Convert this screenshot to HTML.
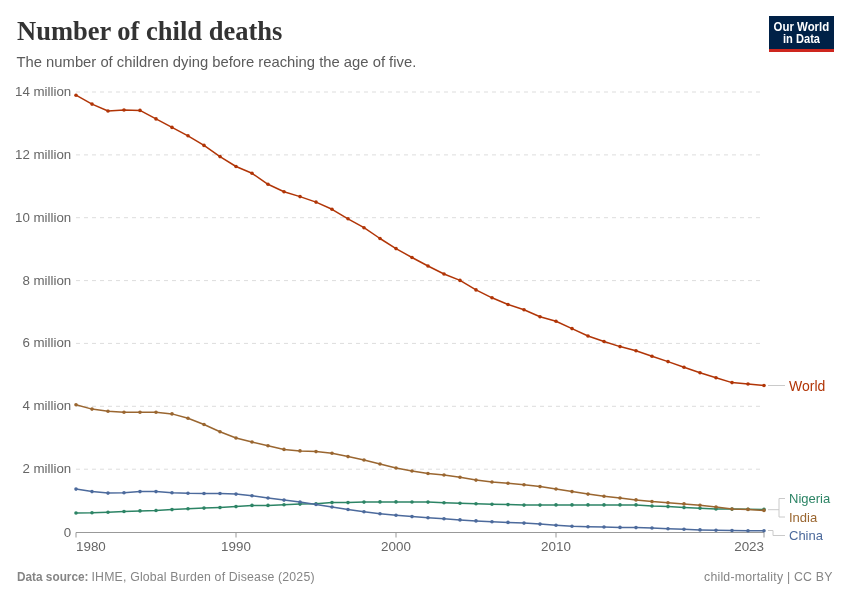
<!DOCTYPE html>
<html><head><meta charset="utf-8"><style>
html,body{margin:0;padding:0;background:#fff;width:850px;height:600px;overflow:hidden}
svg{display:block;will-change:transform}
</style></head><body>
<svg width="850" height="600" viewBox="0 0 850 600" font-family="Liberation Sans, sans-serif">
<rect width="850" height="600" fill="#fff"/>
<text x="17" y="40" font-family="Liberation Serif, serif" font-weight="bold" font-size="26.5" fill="#333">Number of child deaths</text>
<text x="16.5" y="66.5" font-size="14.8" fill="#5b5b5b">The number of children dying before reaching the age of five.</text>
<g>
<rect x="769" y="16" width="65" height="36" fill="#002147"/>
<rect x="769" y="49" width="65" height="3" fill="#ce261e"/>
<text x="773.6" y="30.7" font-size="12" font-weight="bold" fill="#fff" textLength="55.6" lengthAdjust="spacingAndGlyphs">Our World</text>
<text x="783" y="42.8" font-size="12" font-weight="bold" fill="#fff" textLength="37" lengthAdjust="spacingAndGlyphs">in Data</text>
</g>
<g font-size="13.3" fill="#666">
<line x1="76" y1="92.0" x2="764" y2="92.0" stroke="#dddddd" stroke-dasharray="4,4"/>
<text x="71.2" y="95.9" text-anchor="end">14 million</text>
<line x1="76" y1="154.9" x2="764" y2="154.9" stroke="#dddddd" stroke-dasharray="4,4"/>
<text x="71.2" y="158.8" text-anchor="end">12 million</text>
<line x1="76" y1="217.7" x2="764" y2="217.7" stroke="#dddddd" stroke-dasharray="4,4"/>
<text x="71.2" y="221.6" text-anchor="end">10 million</text>
<line x1="76" y1="280.6" x2="764" y2="280.6" stroke="#dddddd" stroke-dasharray="4,4"/>
<text x="71.2" y="284.5" text-anchor="end">8 million</text>
<line x1="76" y1="343.4" x2="764" y2="343.4" stroke="#dddddd" stroke-dasharray="4,4"/>
<text x="71.2" y="347.3" text-anchor="end">6 million</text>
<line x1="76" y1="406.3" x2="764" y2="406.3" stroke="#dddddd" stroke-dasharray="4,4"/>
<text x="71.2" y="410.2" text-anchor="end">4 million</text>
<line x1="76" y1="469.2" x2="764" y2="469.2" stroke="#dddddd" stroke-dasharray="4,4"/>
<text x="71.2" y="473.1" text-anchor="end">2 million</text>
<text x="71.2" y="536.8" text-anchor="end">0</text>

</g>
<g font-size="13.4" fill="#666">
<line x1="76" y1="532.5" x2="764" y2="532.5" stroke="#999" stroke-width="1"/>
<line x1="76" y1="532.5" x2="76" y2="537.5" stroke="#999"/>
<line x1="236" y1="532.5" x2="236" y2="537.5" stroke="#999"/>
<line x1="396" y1="532.5" x2="396" y2="537.5" stroke="#999"/>
<line x1="556" y1="532.5" x2="556" y2="537.5" stroke="#999"/>
<line x1="764" y1="532.5" x2="764" y2="537.5" stroke="#999"/>
<text x="76" y="550.5">1980</text><text x="236" y="550.5" text-anchor="middle">1990</text><text x="396" y="550.5" text-anchor="middle">2000</text><text x="556" y="550.5" text-anchor="middle">2010</text><text x="764" y="550.5" text-anchor="end">2023</text>

</g>
<g fill="#b13507"><polyline points="76.0,95.2 92.0,104.1 108.0,111.0 124.0,110.0 140.0,110.4 156.0,118.9 172.0,127.4 188.0,135.8 204.0,145.4 220.0,156.6 236.0,166.5 252.0,173.3 268.0,184.3 284.0,191.7 300.0,196.6 316.0,202.1 332.0,209.3 348.0,218.8 364.0,227.7 380.0,238.5 396.0,248.6 412.0,257.5 428.0,266.0 444.0,274.0 460.0,280.4 476.0,289.9 492.0,297.8 508.0,304.5 524.0,309.8 540.0,316.8 556.0,321.2 572.0,328.6 588.0,336.0 604.0,341.5 620.0,346.6 636.0,350.8 652.0,356.3 668.0,361.6 684.0,367.2 700.0,372.7 716.0,377.8 732.0,382.6 748.0,384.0 764.0,385.5" fill="none" stroke="#b13507" stroke-width="1.5" stroke-linejoin="round"/>
<circle cx="76.0" cy="95.2" r="1.8"/><circle cx="92.0" cy="104.1" r="1.8"/><circle cx="108.0" cy="111.0" r="1.8"/><circle cx="124.0" cy="110.0" r="1.8"/><circle cx="140.0" cy="110.4" r="1.8"/><circle cx="156.0" cy="118.9" r="1.8"/><circle cx="172.0" cy="127.4" r="1.8"/><circle cx="188.0" cy="135.8" r="1.8"/><circle cx="204.0" cy="145.4" r="1.8"/><circle cx="220.0" cy="156.6" r="1.8"/><circle cx="236.0" cy="166.5" r="1.8"/><circle cx="252.0" cy="173.3" r="1.8"/><circle cx="268.0" cy="184.3" r="1.8"/><circle cx="284.0" cy="191.7" r="1.8"/><circle cx="300.0" cy="196.6" r="1.8"/><circle cx="316.0" cy="202.1" r="1.8"/><circle cx="332.0" cy="209.3" r="1.8"/><circle cx="348.0" cy="218.8" r="1.8"/><circle cx="364.0" cy="227.7" r="1.8"/><circle cx="380.0" cy="238.5" r="1.8"/><circle cx="396.0" cy="248.6" r="1.8"/><circle cx="412.0" cy="257.5" r="1.8"/><circle cx="428.0" cy="266.0" r="1.8"/><circle cx="444.0" cy="274.0" r="1.8"/><circle cx="460.0" cy="280.4" r="1.8"/><circle cx="476.0" cy="289.9" r="1.8"/><circle cx="492.0" cy="297.8" r="1.8"/><circle cx="508.0" cy="304.5" r="1.8"/><circle cx="524.0" cy="309.8" r="1.8"/><circle cx="540.0" cy="316.8" r="1.8"/><circle cx="556.0" cy="321.2" r="1.8"/><circle cx="572.0" cy="328.6" r="1.8"/><circle cx="588.0" cy="336.0" r="1.8"/><circle cx="604.0" cy="341.5" r="1.8"/><circle cx="620.0" cy="346.6" r="1.8"/><circle cx="636.0" cy="350.8" r="1.8"/><circle cx="652.0" cy="356.3" r="1.8"/><circle cx="668.0" cy="361.6" r="1.8"/><circle cx="684.0" cy="367.2" r="1.8"/><circle cx="700.0" cy="372.7" r="1.8"/><circle cx="716.0" cy="377.8" r="1.8"/><circle cx="732.0" cy="382.6" r="1.8"/><circle cx="748.0" cy="384.0" r="1.8"/><circle cx="764.0" cy="385.5" r="1.8"/></g>

<g fill="#2c8465"><polyline points="76.0,513.0 92.0,512.8 108.0,512.2 124.0,511.5 140.0,510.9 156.0,510.5 172.0,509.6 188.0,508.8 204.0,508.1 220.0,507.5 236.0,506.6 252.0,505.4 268.0,505.4 284.0,504.7 300.0,504.1 316.0,503.7 332.0,502.6 348.0,502.6 364.0,502.1 380.0,501.9 396.0,501.9 412.0,502.0 428.0,502.1 444.0,502.7 460.0,503.2 476.0,503.8 492.0,504.2 508.0,504.6 524.0,505.1 540.0,505.1 556.0,504.9 572.0,504.9 588.0,504.9 604.0,504.9 620.0,504.9 636.0,504.9 652.0,506.0 668.0,506.6 684.0,507.5 700.0,508.3 716.0,509.0 732.0,509.1 748.0,509.3 764.0,509.4" fill="none" stroke="#2c8465" stroke-width="1.5" stroke-linejoin="round"/>
<circle cx="76.0" cy="513.0" r="1.8"/><circle cx="92.0" cy="512.8" r="1.8"/><circle cx="108.0" cy="512.2" r="1.8"/><circle cx="124.0" cy="511.5" r="1.8"/><circle cx="140.0" cy="510.9" r="1.8"/><circle cx="156.0" cy="510.5" r="1.8"/><circle cx="172.0" cy="509.6" r="1.8"/><circle cx="188.0" cy="508.8" r="1.8"/><circle cx="204.0" cy="508.1" r="1.8"/><circle cx="220.0" cy="507.5" r="1.8"/><circle cx="236.0" cy="506.6" r="1.8"/><circle cx="252.0" cy="505.4" r="1.8"/><circle cx="268.0" cy="505.4" r="1.8"/><circle cx="284.0" cy="504.7" r="1.8"/><circle cx="300.0" cy="504.1" r="1.8"/><circle cx="316.0" cy="503.7" r="1.8"/><circle cx="332.0" cy="502.6" r="1.8"/><circle cx="348.0" cy="502.6" r="1.8"/><circle cx="364.0" cy="502.1" r="1.8"/><circle cx="380.0" cy="501.9" r="1.8"/><circle cx="396.0" cy="501.9" r="1.8"/><circle cx="412.0" cy="502.0" r="1.8"/><circle cx="428.0" cy="502.1" r="1.8"/><circle cx="444.0" cy="502.7" r="1.8"/><circle cx="460.0" cy="503.2" r="1.8"/><circle cx="476.0" cy="503.8" r="1.8"/><circle cx="492.0" cy="504.2" r="1.8"/><circle cx="508.0" cy="504.6" r="1.8"/><circle cx="524.0" cy="505.1" r="1.8"/><circle cx="540.0" cy="505.1" r="1.8"/><circle cx="556.0" cy="504.9" r="1.8"/><circle cx="572.0" cy="504.9" r="1.8"/><circle cx="588.0" cy="504.9" r="1.8"/><circle cx="604.0" cy="504.9" r="1.8"/><circle cx="620.0" cy="504.9" r="1.8"/><circle cx="636.0" cy="504.9" r="1.8"/><circle cx="652.0" cy="506.0" r="1.8"/><circle cx="668.0" cy="506.6" r="1.8"/><circle cx="684.0" cy="507.5" r="1.8"/><circle cx="700.0" cy="508.3" r="1.8"/><circle cx="716.0" cy="509.0" r="1.8"/><circle cx="732.0" cy="509.1" r="1.8"/><circle cx="748.0" cy="509.3" r="1.8"/><circle cx="764.0" cy="509.4" r="1.8"/></g>

<g fill="#9a6630"><polyline points="76.0,404.8 92.0,409.1 108.0,411.2 124.0,412.2 140.0,412.2 156.0,412.2 172.0,413.9 188.0,418.2 204.0,424.5 220.0,431.7 236.0,438.0 252.0,442.0 268.0,445.8 284.0,449.4 300.0,450.9 316.0,451.6 332.0,453.3 348.0,456.6 364.0,460.0 380.0,464.0 396.0,468.0 412.0,471.0 428.0,473.5 444.0,475.0 460.0,477.3 476.0,480.1 492.0,482.0 508.0,483.2 524.0,484.7 540.0,486.6 556.0,489.0 572.0,491.6 588.0,494.1 604.0,496.3 620.0,498.0 636.0,499.9 652.0,501.6 668.0,502.8 684.0,503.9 700.0,505.2 716.0,507.0 732.0,509.0 748.0,509.4 764.0,510.4" fill="none" stroke="#9a6630" stroke-width="1.5" stroke-linejoin="round"/>
<circle cx="76.0" cy="404.8" r="1.8"/><circle cx="92.0" cy="409.1" r="1.8"/><circle cx="108.0" cy="411.2" r="1.8"/><circle cx="124.0" cy="412.2" r="1.8"/><circle cx="140.0" cy="412.2" r="1.8"/><circle cx="156.0" cy="412.2" r="1.8"/><circle cx="172.0" cy="413.9" r="1.8"/><circle cx="188.0" cy="418.2" r="1.8"/><circle cx="204.0" cy="424.5" r="1.8"/><circle cx="220.0" cy="431.7" r="1.8"/><circle cx="236.0" cy="438.0" r="1.8"/><circle cx="252.0" cy="442.0" r="1.8"/><circle cx="268.0" cy="445.8" r="1.8"/><circle cx="284.0" cy="449.4" r="1.8"/><circle cx="300.0" cy="450.9" r="1.8"/><circle cx="316.0" cy="451.6" r="1.8"/><circle cx="332.0" cy="453.3" r="1.8"/><circle cx="348.0" cy="456.6" r="1.8"/><circle cx="364.0" cy="460.0" r="1.8"/><circle cx="380.0" cy="464.0" r="1.8"/><circle cx="396.0" cy="468.0" r="1.8"/><circle cx="412.0" cy="471.0" r="1.8"/><circle cx="428.0" cy="473.5" r="1.8"/><circle cx="444.0" cy="475.0" r="1.8"/><circle cx="460.0" cy="477.3" r="1.8"/><circle cx="476.0" cy="480.1" r="1.8"/><circle cx="492.0" cy="482.0" r="1.8"/><circle cx="508.0" cy="483.2" r="1.8"/><circle cx="524.0" cy="484.7" r="1.8"/><circle cx="540.0" cy="486.6" r="1.8"/><circle cx="556.0" cy="489.0" r="1.8"/><circle cx="572.0" cy="491.6" r="1.8"/><circle cx="588.0" cy="494.1" r="1.8"/><circle cx="604.0" cy="496.3" r="1.8"/><circle cx="620.0" cy="498.0" r="1.8"/><circle cx="636.0" cy="499.9" r="1.8"/><circle cx="652.0" cy="501.6" r="1.8"/><circle cx="668.0" cy="502.8" r="1.8"/><circle cx="684.0" cy="503.9" r="1.8"/><circle cx="700.0" cy="505.2" r="1.8"/><circle cx="716.0" cy="507.0" r="1.8"/><circle cx="732.0" cy="509.0" r="1.8"/><circle cx="748.0" cy="509.4" r="1.8"/><circle cx="764.0" cy="510.4" r="1.8"/></g>

<g fill="#4c6a9c"><polyline points="76.0,489.1 92.0,491.6 108.0,493.1 124.0,492.7 140.0,491.6 156.0,491.6 172.0,492.7 188.0,493.3 204.0,493.5 220.0,493.5 236.0,494.1 252.0,495.8 268.0,498.0 284.0,500.1 300.0,502.0 316.0,504.5 332.0,507.0 348.0,509.5 364.0,511.8 380.0,513.7 396.0,515.3 412.0,516.6 428.0,517.8 444.0,518.8 460.0,519.9 476.0,520.9 492.0,521.8 508.0,522.4 524.0,523.1 540.0,524.1 556.0,525.3 572.0,526.3 588.0,526.8 604.0,527.0 620.0,527.4 636.0,527.6 652.0,528.0 668.0,528.7 684.0,529.3 700.0,529.9 716.0,530.2 732.0,530.5 748.0,530.7 764.0,530.8" fill="none" stroke="#4c6a9c" stroke-width="1.5" stroke-linejoin="round"/>
<circle cx="76.0" cy="489.1" r="1.8"/><circle cx="92.0" cy="491.6" r="1.8"/><circle cx="108.0" cy="493.1" r="1.8"/><circle cx="124.0" cy="492.7" r="1.8"/><circle cx="140.0" cy="491.6" r="1.8"/><circle cx="156.0" cy="491.6" r="1.8"/><circle cx="172.0" cy="492.7" r="1.8"/><circle cx="188.0" cy="493.3" r="1.8"/><circle cx="204.0" cy="493.5" r="1.8"/><circle cx="220.0" cy="493.5" r="1.8"/><circle cx="236.0" cy="494.1" r="1.8"/><circle cx="252.0" cy="495.8" r="1.8"/><circle cx="268.0" cy="498.0" r="1.8"/><circle cx="284.0" cy="500.1" r="1.8"/><circle cx="300.0" cy="502.0" r="1.8"/><circle cx="316.0" cy="504.5" r="1.8"/><circle cx="332.0" cy="507.0" r="1.8"/><circle cx="348.0" cy="509.5" r="1.8"/><circle cx="364.0" cy="511.8" r="1.8"/><circle cx="380.0" cy="513.7" r="1.8"/><circle cx="396.0" cy="515.3" r="1.8"/><circle cx="412.0" cy="516.6" r="1.8"/><circle cx="428.0" cy="517.8" r="1.8"/><circle cx="444.0" cy="518.8" r="1.8"/><circle cx="460.0" cy="519.9" r="1.8"/><circle cx="476.0" cy="520.9" r="1.8"/><circle cx="492.0" cy="521.8" r="1.8"/><circle cx="508.0" cy="522.4" r="1.8"/><circle cx="524.0" cy="523.1" r="1.8"/><circle cx="540.0" cy="524.1" r="1.8"/><circle cx="556.0" cy="525.3" r="1.8"/><circle cx="572.0" cy="526.3" r="1.8"/><circle cx="588.0" cy="526.8" r="1.8"/><circle cx="604.0" cy="527.0" r="1.8"/><circle cx="620.0" cy="527.4" r="1.8"/><circle cx="636.0" cy="527.6" r="1.8"/><circle cx="652.0" cy="528.0" r="1.8"/><circle cx="668.0" cy="528.7" r="1.8"/><circle cx="684.0" cy="529.3" r="1.8"/><circle cx="700.0" cy="529.9" r="1.8"/><circle cx="716.0" cy="530.2" r="1.8"/><circle cx="732.0" cy="530.5" r="1.8"/><circle cx="748.0" cy="530.7" r="1.8"/><circle cx="764.0" cy="530.8" r="1.8"/></g>


<g stroke="#cacaca" fill="none" stroke-width="1">
<line x1="768" y1="385.5" x2="785" y2="385.5"/>
<path d="M768 509.7H779M779 498.5V517M779 498.5H785M779 517H785"/>
<path d="M768 530.5H773V535.5H785"/>
</g>
<g font-size="13">
<text x="789" y="390.7" font-size="14" fill="#b13507">World</text>
<text x="789" y="503" fill="#2c8465">Nigeria</text>
<text x="789" y="521.5" fill="#9a6630">India</text>
<text x="789" y="540" fill="#4c6a9c">China</text>
</g>

<text x="17" y="580.6" font-size="12.3" font-weight="bold" fill="#858585" textLength="71.5" lengthAdjust="spacingAndGlyphs">Data source:</text>
<text x="91.5" y="580.6" font-size="12.3" fill="#858585" textLength="223" lengthAdjust="spacing">IHME, Global Burden of Disease (2025)</text>
<text x="704" y="580.6" font-size="12.3" fill="#858585" textLength="128.5" lengthAdjust="spacing">child-mortality | CC BY</text>
</svg>
</body></html>
